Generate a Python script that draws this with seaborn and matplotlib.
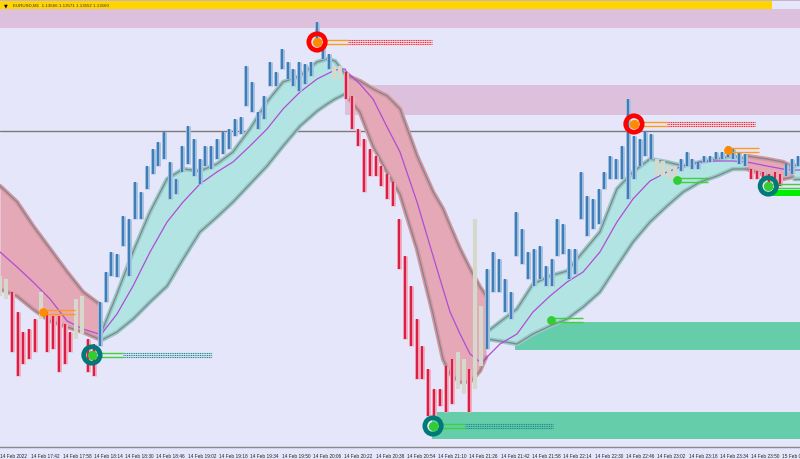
import matplotlib
matplotlib.use("Agg")
import matplotlib.pyplot as plt
import seaborn as sns
import numpy as np
import pandas as pd
from matplotlib.patches import Rectangle

# ---------------- data (price in arbitrary points, time in minutes from 14 Feb 17:26) ----------------
bar_high = [183, 180, 167, 147, 127, 130, 140, 167, 147, 143, 143, 135, 127, 160, 163, 120, 115,
            157, 187, 207, 205, 243, 240, 277, 267, 293, 310, 317, 327, 297, 280, 313, 333, 320, 300,
            313, 313, 320, 327, 330, 340, 342, 393, 377, 347, 363, 397, 387, 410, 397, 390, 397, 395,
            397, 437, 415, 405, 393, 393, 387, 363, 330, 320, 310, 303, 293, 285, 277, 240, 203, 173,
            140, 113, 90, 70, 70, 93, 100, 107, 100, 90, 240, 153, 190, 207, 200, 180, 167, 247, 230,
            207, 210, 213, 193, 200, 240, 235, 210, 210, 287, 263, 260, 270, 287, 303, 300, 313, 360,
            323, 320, 327, 325, 300, 298, 293, 293, 300, 307, 300, 297, 303, 303, 307, 307, 313, 310,
            307, 305, 290, 288, 287, 285, 287, 285, 295, 300, 303]
bar_low = [163, 160, 107, 83, 95, 100, 107, 140, 107, 110, 87, 95, 107, 120, 125, 87, 83,
           113, 157, 183, 182, 213, 183, 240, 240, 270, 285, 293, 300, 260, 265, 287, 295, 283, 275,
           293, 290, 300, 305, 310, 323, 325, 353, 347, 330, 340, 373, 373, 390, 380, 373, 368, 375,
           383, 413, 400, 390, 380, 380, 360, 330, 313, 267, 283, 283, 273, 260, 253, 190, 120, 113,
           80, 80, 43, 40, 53, 47, 55, 70, 65, 47, 70, 93, 110, 167, 167, 147, 140, 203, 195,
           180, 173, 180, 173, 173, 203, 205, 180, 185, 240, 223, 230, 235, 270, 280, 280, 280, 260,
           280, 293, 303, 300, 283, 283, 280, 280, 288, 293, 290, 290, 297, 297, 300, 300, 302, 300,
           295, 293, 280, 280, 277, 275, 273, 273, 283, 285, 293]
bar_step_min = 3
bar_trend_runs = [("down", 17), ("up", 42), ("down", 24), ("up", 45), ("down", 6), ("up", 3)]
pale_bars = [0, 1, 7, 13, 14, 57, 58, 78, 79, 81, 82, 112, 113, 114, 115]

band_time = [0, 8.7, 16.9, 25.6, 34.3, 42.4, 50.6,
             51.1, 59.8, 68.0, 76.7, 85.4, 93.6, 102.2, 110.9, 119.1, 127.8, 136.5, 144.7, 153.4, 162.1, 167.2, 171.3, 176.4,
             176.9, 184.0, 190.7, 197.9, 204.5, 213.2, 221.4, 226.5, 230.1, 235.2, 240.3, 245.4, 248.5,
             249.0, 255.6, 264.3, 272.5, 281.2, 289.9, 298.1, 306.7, 315.4, 323.6, 332.3, 341.0, 349.2, 357.9, 366.6, 374.7, 381.4,
             381.9, 392.1, 400.3, 405.4,
             405.9, 409.0]
band_upper = [273, 257, 233, 210, 187, 167, 155,
              123, 165, 207, 247, 280, 290, 288, 295, 307, 330, 357, 377, 383, 397, 400, 398, 385,
              384, 378, 370, 363, 350, 303, 267, 250, 233, 210, 190, 172, 163,
              127, 137, 150, 175, 183, 188, 207, 227, 270, 287, 300, 297, 293, 297, 300, 303, 300,
              303, 300, 297, 292,
              293, 295]
band_lower = [170, 163, 150, 138, 132, 127, 120,
              118, 127, 140, 157, 173, 200, 227, 242, 257, 275, 293, 313, 333, 348, 355, 360, 365,
              364, 347, 313, 287, 265, 210, 145, 100, 85, 77, 77, 88, 102,
              120, 118, 115, 125, 133, 140, 152, 167, 193, 217, 237, 253, 267, 277, 283, 290, 290,
              290, 283, 280, 282,
              280, 280]
band_mid = [207, 192, 177, 160, 138, 130, 125,
            123, 145, 173, 207, 237, 257, 275, 287, 297, 313, 330, 350, 367, 380, 385, 389, 390,
            388, 375, 360, 332, 307, 257, 203, 170, 147, 125, 105, 97, 100,
            102, 115, 125, 147, 163, 177, 187, 207, 237, 260, 278, 287, 293, 297, 298, 298, 297,
            297, 293, 290, 289,
            289, 289]
band_seg = [0] * 7 + [1] * 17 + [2] * 13 + [3] * 17 + [4] * 4 + [5] * 2
seg_trend = ["down", "up", "down", "up", "down", "up"]

# zones: (start, end, low, high, kind)
zone_t0 = [0, 176.4, 263.3, 220.9]
zone_t1 = [409, 409, 409, 409]
zone_lo = [431, 344, 109, 20]
zone_hi = [450, 374, 137, 47]
zone_kind = ["supply", "supply", "demand", "demand"]
level_line = 328

sell_t = [162.1, 324.1]
sell_v = [417, 335]
sell_orange_end = [177.9, 341.0]
sell_red_end = [220.9, 386.0]

buy_t = [47.0, 221.4, 392.8]
buy_v = [104, 33, 273]
buy_green_end = [62.9, 237.7, 409]
buy_teal_end = [108.4, 282.7, 409]

small_sell_t = [22.0, 372.0]
small_sell_v = [147, 309]
small_sell_end = [38.3, 388.0]
small_buy_t = [281.5, 346.0]
small_buy_v = [139, 279]
small_buy_end = [298.1, 362.0]

tick_min = list(range(0, 401, 16))
tick_labels = ["14 Feb 2022", "14 Feb 17:42", "14 Feb 17:58", "14 Feb 18:14", "14 Feb 18:30",
               "14 Feb 18:46", "14 Feb 19:02", "14 Feb 19:18", "14 Feb 19:34", "14 Feb 19:50",
               "14 Feb 20:06", "14 Feb 20:22", "14 Feb 20:38", "14 Feb 20:54", "14 Feb 21:10",
               "14 Feb 21:26", "14 Feb 21:42", "14 Feb 21:58", "14 Feb 22:14", "14 Feb 22:30",
               "14 Feb 22:46", "14 Feb 23:02", "14 Feb 23:18", "14 Feb 23:34", "14 Feb 23:50",
               "15 Feb 00:06"]
header_text = "EURUSD,M1  1.13566 1.13571 1.13552 1.13560"

# ---------------- styling ----------------
sns.set_theme(style="white")
plt.rcParams['font.family'] = ['Liberation Sans', 'DejaVu Sans']
BG = "#E6E6FA"
CYAN_FILL, PINK_FILL = "#B2E4E4", "#E4A8B6"
CYAN_EDGE, PINK_EDGE = "#93CACA", "#D496A4"
ZONE_COL = {"supply": "#DCC0DC", "demand": "#66CDAA"}

fig = plt.figure(figsize=(8, 4.6), dpi=100, facecolor=BG)
ax = fig.add_axes([0, 12 / 460, 1, 448 / 460])
ax.set_facecolor(BG)
ax.set_xlim(0, 409)
ax.set_ylim(12, 460)

# zones
for t0, t1, lo, hi, k in zip(zone_t0, zone_t1, zone_lo, zone_hi, zone_kind):
    ax.add_patch(Rectangle((t0, lo), t1 - t0, hi - lo, color=ZONE_COL[k], lw=0, zorder=0.5))
ax.axhline(level_line, color="#7A7A7A", lw=1.0, zorder=0.6)

# band
band = pd.DataFrame({"t": band_time, "up": band_upper, "lo": band_lower, "mid": band_mid, "seg": band_seg})
for s, g in band.groupby("seg"):
    tr = seg_trend[s]
    fill = CYAN_FILL if tr == "up" else PINK_FILL
    edge = CYAN_EDGE if tr == "up" else PINK_EDGE
    ax.fill_between(g["t"], g["lo"], g["up"], color=fill, lw=0, zorder=1)
    for col in ("up", "lo"):
        sns.lineplot(data=g, x="t", y=col, ax=ax, color=edge, lw=3.2, estimator=None, sort=False, zorder=1.5)
        sns.lineplot(data=g, x="t", y=col, ax=ax, color="#858585", lw=0.9, estimator=None, sort=False, zorder=1.6)
sns.lineplot(data=band, x="t", y="mid", ax=ax, color="#B24BD6", lw=0.9, estimator=None, sort=False, zorder=1.7)

# bars
trend = []
for name, n in bar_trend_runs:
    trend += [name] * n
bt = np.arange(len(bar_high)) * bar_step_min
dark = {"up": "#3C7DBA", "down": "#DC1E46"}
pale = {"up": "#A9C4E0", "down": "#EFB0C0"}
for i, (t, h, l) in enumerate(zip(bt, bar_high, bar_low)):
    if i in pale_bars:
        ax.vlines(t, l, h, color="#D6D8CC", lw=3.0, zorder=3)
    else:
        ax.vlines(t, l, h, color=pale[trend[i]], lw=3.6, zorder=2.8)
        ax.vlines(t, l, h, color=dark[trend[i]], lw=1.6, zorder=3)

# signal lines helper
def multi_line(t0, t1, v, color, offsets, ls, lw=0.8, z=4):
    for o in offsets:
        ax.plot([t0, t1], [v + o, v + o], color=color, lw=lw, ls=ls, zorder=z, solid_capstyle="butt")

for t, v, oe, re in zip(sell_t, sell_v, sell_orange_end, sell_red_end):
    multi_line(oe, re, v, "#FF2020", [-2.2, 0, 2.2], (0, (1, 0.6)))
    multi_line(t, oe, v, "#FF9A1E", [-1.6, 1.6], "-", lw=1.0)
    ax.scatter([t], [v], s=140, facecolors="none", edgecolors="#FF0000", linewidths=3.4, zorder=5)
    ax.scatter([t], [v], s=45, color="#FF8C00", zorder=5.5, lw=0)

for t, v, ge, te in zip(buy_t, buy_v, buy_green_end, buy_teal_end):
    multi_line(ge, te, v, "#1E8C8C", [-2.2, 0, 2.2], (0, (1, 0.6)))
    multi_line(t, ge, v, "#3CD23C", [-1.6, 1.6], "-", lw=1.0)
    ax.scatter([t], [v], s=140, facecolors="none", edgecolors="#007A78", linewidths=3.4, zorder=5)
    ax.scatter([t], [v], s=45, color="#32CD32", zorder=5.5, lw=0)
ax.add_patch(Rectangle((394.5, 263.5), 14.5, 5.5, color="#00EE00", lw=0, zorder=4.5))

for t, v, e in zip(small_sell_t, small_sell_v, small_sell_end):
    multi_line(t, e, v, "#FF9A1E", [-1.6, 1.6], "-", lw=1.0)
    ax.scatter([t], [v], s=40, color="#FF8C00", zorder=5, lw=0)
for t, v, e in zip(small_buy_t, small_buy_v, small_buy_end):
    multi_line(t, e, v, "#3CD23C", [-1.6, 1.6], "-", lw=1.0)
    ax.scatter([t], [v], s=40, color="#32CD32", zorder=5, lw=0)

# axes cosmetics
ax.set_xlabel("")
ax.set_ylabel("")
ax.set_yticks([])
ax.set_xticks(tick_min)
ax.set_xticklabels(tick_labels, ha="left", fontsize=3.4, color="#222222")
ax.tick_params(axis="x", length=3, width=0.6, color="#444444", pad=1.0)
for sp in ("top", "right", "left"):
    ax.spines[sp].set_visible(False)
ax.spines["bottom"].set_color("#8A8A8A")
ax.spines["bottom"].set_linewidth(1.0)

# header strip
fig.patches.append(Rectangle((0, 450 / 460), 772 / 800, 8 / 460, transform=fig.transFigure,
                             color="#FFD400", lw=0, zorder=10))
fig.patches.append(Rectangle((0, 458 / 460), 1, 2 / 460, transform=fig.transFigure,
                             color="#C8B4C8", lw=0, zorder=10))
fig.text(13 / 800, 454 / 460, header_text, fontsize=3.2, color="#333333", va="center", zorder=11)
fig.text(4 / 800, 454 / 460, "\u25BC", fontsize=3.5, color="black", va="center", zorder=11,
         family=["DejaVu Sans"])

fig.savefig("out.png", dpi=100, facecolor=BG)
